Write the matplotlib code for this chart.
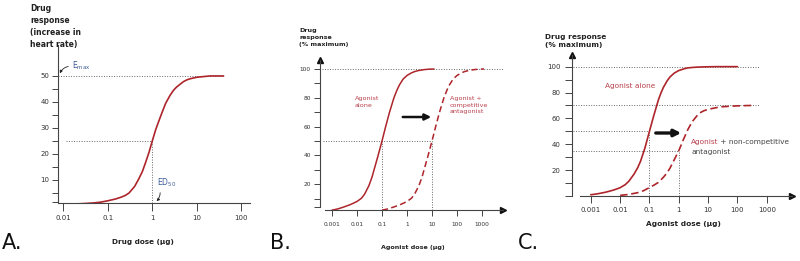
import matplotlib
matplotlib.use("Agg")
import matplotlib.pyplot as plt
from matplotlib.ticker import FixedLocator, NullLocator, FixedFormatter

W, H = 800, 261

# ---------------- data ----------------
A_dose = [0.02, 0.03, 0.05, 0.07, 0.1, 0.15, 0.2, 0.25, 0.3, 0.4, 0.5, 0.6, 0.7, 0.85, 1,
          1.2, 1.5, 1.75, 2, 2.5, 3, 3.5, 4, 5, 6, 7, 10, 15, 20, 40]
A_resp = [0.8, 0.95, 1.2, 1.5, 2.0, 2.7, 3.4, 4.1, 5.0, 7.5, 10.5, 13.3, 16.5, 20.8, 25,
          29.5, 34, 37, 39.5, 42.5, 44.5, 45.7, 46.5, 47.8, 48.5, 48.9, 49.5, 49.8, 50, 50]
A_emax = 50
A_ed50 = 1
A_xticks = [0.01, 0.1, 1, 10, 100]
A_xticklabels = ["0.01", "0.1", "1", "10", "100"]
A_yticks = [10, 20, 30, 40, 50]

B_dose_alone = [0.001, 0.0015, 0.002, 0.003, 0.005, 0.007, 0.01, 0.015, 0.02, 0.03, 0.04, 0.05,
                0.07, 0.1, 0.14, 0.2, 0.25, 0.3, 0.4, 0.5, 0.7, 1, 1.5, 2, 3, 5, 8, 12]
B_resp_alone = [2, 2.6, 3.2, 4.2, 5.6, 6.7, 8, 10.2, 13, 19, 25, 31,
                40, 50, 60, 70, 75.5, 80, 85.5, 89, 93, 95.5, 97.3, 98.2, 99, 99.6, 99.9, 100]
B_dose_comp = [0.1, 0.15, 0.2, 0.3, 0.5, 0.7, 1, 1.5, 2, 3, 4, 5,
               7, 10, 14, 20, 25, 30, 40, 50, 70, 100, 150, 200, 300, 500, 800, 1200]
B_resp_comp = [2, 2.6, 3.2, 4.2, 5.6, 6.7, 8, 10.2, 13, 19, 25, 31,
               40, 50, 60, 70, 75.5, 80, 85.5, 89, 93, 95.5, 97.3, 98.2, 99, 99.6, 99.9, 100]
B_ec50 = [0.1, 10]
B_xticks = [0.001, 0.01, 0.1, 1, 10, 100, 1000]
B_xticklabels = ["0.001", "0.01", "0.1", "1", "10", "100", "1000"]
B_yticks = [20, 40, 60, 80, 100]

C_dose_alone = [0.001, 0.0015, 0.002, 0.003, 0.004, 0.006, 0.01, 0.015, 0.02, 0.03, 0.04, 0.05,
                0.07, 0.1, 0.14, 0.2, 0.25, 0.3, 0.4, 0.5, 0.7, 1, 1.5, 2, 3, 5, 10, 20, 100]
C_resp_alone = [1, 1.5, 2, 2.8, 3.5, 4.6, 6.4, 8.8, 11.5, 17, 22, 27,
                37, 50, 62, 74, 80, 84, 89, 92, 95, 97, 98.3, 99, 99.4, 99.7, 99.9, 100, 100]
C_dose_nonc = [0.01, 0.015, 0.02, 0.03, 0.04, 0.06, 0.1, 0.15, 0.2, 0.3, 0.4, 0.5, 0.7, 1,
               1.4, 2, 2.5, 3, 4, 5, 7, 10, 20, 30, 100, 300]
C_resp_nonc = [0.5, 0.9, 1.3, 2, 2.6, 3.9, 6.5, 8.7, 10.5, 14.5, 18, 21.5, 28, 35,
               43, 51, 55, 58, 61.5, 64, 65.8, 67, 68.4, 69, 69.7, 70]
C_ec50 = [0.1, 1]
C_half = [50, 35]
C_max = [100, 70]
C_xticks = [0.001, 0.01, 0.1, 1, 10, 100, 1000]
C_xticklabels = ["0.001", "0.01", "0.1", "1", "10", "100", "1000"]
C_yticks = [20, 40, 60, 80, 100]

# ---------------- styles ----------------
RED = "#ad252b"
TXTRED = "#b8404c"
AX = "#444444"
TK = "#333333"
DOT = "#666666"
BLUE = "#3c5a96"
DOTSTYLE = (0, (1, 1.6))

fig = plt.figure(figsize=(W / 100, H / 100), dpi=100)
fig.patch.set_facecolor("white")


def add_axes_px(l, r, t, b):
    return fig.add_axes([l / W, 1 - b / H, (r - l) / W, (b - t) / H])


def fx(x):
    return x / W


def fy(y):
    return 1 - y / H


def style_axes(ax, fs, tlen, xpad, ypad):
    ax.set_facecolor("none")
    ax.set_xscale("log")
    for s in ["top", "right"]:
        ax.spines[s].set_visible(False)
    for s in ["left", "bottom"]:
        ax.spines[s].set_color(AX)
        ax.spines[s].set_linewidth(0.8)
    ax.xaxis.set_minor_locator(NullLocator())
    ax.tick_params(axis="both", which="both", colors=AX, labelcolor=TK,
                   labelsize=fs, length=tlen, width=0.7, direction="out")
    ax.tick_params(axis="x", pad=xpad)
    ax.tick_params(axis="y", pad=ypad)


def dotted(ax, xs, ys):
    ax.plot(xs, ys, color=DOT, lw=0.7, linestyle=DOTSTYLE, zorder=1)


def curve(ax, xs, ys, lw, ls="-"):
    ax.plot(xs, ys, color=RED, lw=lw, linestyle=ls, zorder=3,
            solid_joinstyle="round", solid_capstyle="round", dash_joinstyle="round")


# ================= Panel A =================
axA = add_axes_px(58, 250, 45, 203)
style_axes(axA, 5, 5.5, 3.5, 2)
axA.set_xlim(10 ** -2.119, 10 ** 2.196)
axA.set_ylim(1.15, 61.9)
axA.spines["left"].set_bounds(1.7, 61.9)
axA.xaxis.set_major_locator(FixedLocator(A_xticks))
axA.xaxis.set_major_formatter(FixedFormatter(A_xticklabels))
axA.yaxis.set_major_locator(FixedLocator(A_yticks))
axA.yaxis.set_minor_locator(FixedLocator([1.7, 5, 15, 25, 35, 45]))
axA.tick_params(axis="y", which="both", length=4)
dotted(axA, [10 ** -2.119, 40], [A_emax, A_emax])
dotted(axA, [10 ** -1.95, A_ed50], [A_emax / 2, A_emax / 2])
dotted(axA, [A_ed50, A_ed50], [1.15, A_emax / 2])
curve(axA, A_dose, A_resp, 1.2)

fig.text(fx(30), fy(4), "Drug\nresponse\n(increase in\nheart rate)", fontsize=5.5,
         fontweight="bold", color="#222", ha="left", va="top", linespacing=1.45)
fig.text(fx(143), fy(242), "Drug dose (µg)", fontsize=5.2, fontweight="bold",
         color="#222", ha="center", va="center")
fig.text(fx(72), fy(66), r"E$_{\mathregular{max}}$", fontsize=5.5, color=BLUE,
         ha="left", va="center")
axA.annotate("", xy=(59, H - 76), xycoords="figure pixels",
             xytext=(71, H - 66), textcoords="figure pixels",
             arrowprops=dict(arrowstyle="-|>", color="#222", lw=0.6,
                             mutation_scale=4, connectionstyle="arc3,rad=0.35"))
fig.text(fx(157), fy(183), r"ED$_{\mathregular{50}}$", fontsize=5.5, color=BLUE,
         ha="left", va="center")
axA.annotate("", xy=(154.5, H - 203), xycoords="figure pixels",
             xytext=(160, H - 190), textcoords="figure pixels",
             arrowprops=dict(arrowstyle="-|>", color="#222", lw=0.6,
                             mutation_scale=4, connectionstyle="arc3,rad=-0.3"))
fig.text(fx(2), fy(243), "A.", fontsize=15, color="#111", ha="left", va="center")

# ================= Panel B =================
axB = add_axes_px(320, 503, 60, 210)
style_axes(axB, 4.2, 4.5, 4.5, 2.5)
axB.set_xlim(10 ** -3.48, 10 ** 3.84)
axB.set_ylim(2.08, 106.25)
axB.spines["left"].set_bounds(4.4, 106.25)
axB.spines["bottom"].set_bounds(10 ** -3.28, 10 ** 3.84)
axB.xaxis.set_major_locator(FixedLocator(B_xticks))
axB.xaxis.set_major_formatter(FixedFormatter(B_xticklabels))
axB.yaxis.set_major_locator(FixedLocator(B_yticks))
axB.yaxis.set_minor_locator(FixedLocator([4.4, 10, 30, 50, 70, 90]))
axB.tick_params(axis="y", which="both", length=4.2)
axB.plot([1], [0], marker=">", color="#111", markersize=4, transform=axB.transAxes, clip_on=False)
axB.plot([0], [1], marker="^", color="#111", markersize=4, transform=axB.transAxes, clip_on=False)
dotted(axB, [10 ** -3.4, 10 ** 3.84], [100, 100])
dotted(axB, [10 ** -3.35, B_ec50[1]], [50, 50])
for e in B_ec50:
    dotted(axB, [e, e], [2.08, 50])
curve(axB, B_dose_alone, B_resp_alone, 1.1)
curve(axB, B_dose_comp, B_resp_comp, 1.1, (0, (4, 2.2)))

fig.text(fx(299), fy(28), "Drug\nresponse\n(% maximum)", fontsize=4.6,
         fontweight="bold", color="#222", ha="left", va="top", linespacing=1.5)
fig.text(fx(413), fy(247), "Agonist dose (µg)", fontsize=4.6, fontweight="bold",
         color="#222", ha="center", va="center")
fig.text(fx(355), fy(96), "Agonist\nalone", fontsize=4.6, color=TXTRED,
         ha="left", va="top", linespacing=1.4)
fig.text(fx(450), fy(96), "Agonist +\ncompetitive\nantagonist", fontsize=4.6,
         color=TXTRED, ha="left", va="top", linespacing=1.4)
axB.annotate("", xy=(434, H - 117), xycoords="figure pixels",
             xytext=(400, H - 117), textcoords="figure pixels",
             arrowprops=dict(arrowstyle="-|>", color="#111", lw=1.8,
                             mutation_scale=9))
fig.text(fx(270), fy(243), "B.", fontsize=15, color="#111", ha="left", va="center")

# ================= Panel C =================
axC = add_axes_px(572, 792, 55, 196)
style_axes(axC, 5, 5, 3, 3)
axC.set_xlim(10 ** -3.64, 10 ** 3.86)
axC.set_ylim(0.0, 109.0)
axC.spines["bottom"].set_bounds(10 ** -3.365, 10 ** 3.86)
axC.xaxis.set_major_locator(FixedLocator(C_xticks))
axC.xaxis.set_major_formatter(FixedFormatter(C_xticklabels))
axC.yaxis.set_major_locator(FixedLocator(C_yticks))
axC.yaxis.set_minor_locator(FixedLocator([0, 10, 30, 50, 70, 90]))
axC.tick_params(axis="y", which="both", length=5)
axC.plot([1], [0], marker=">", color="#111", markersize=4, transform=axC.transAxes, clip_on=False)
axC.plot([0], [1], marker="^", color="#111", markersize=4, transform=axC.transAxes, clip_on=False)
for m in C_max:
    dotted(axC, [10 ** -3.6, 590], [m, m])
for e, h in zip(C_ec50, C_half):
    dotted(axC, [10 ** -3.6, e], [h, h])
    dotted(axC, [e, e], [0, h])
curve(axC, C_dose_alone, C_resp_alone, 1.2)
curve(axC, C_dose_nonc, C_resp_nonc, 1.2, (0, (4.5, 2.2)))

fig.text(fx(545), fy(34), "Drug response\n(% maximum)", fontsize=5.3,
         fontweight="bold", color="#222", ha="left", va="top", linespacing=1.35)
fig.text(fx(683), fy(224), "Agonist dose (µg)", fontsize=5.3, fontweight="bold",
         color="#222", ha="center", va="center")
fig.text(fx(605), fy(86), "Agonist alone", fontsize=5.3, color=TXTRED,
         ha="left", va="center")
t1 = fig.text(fx(691), fy(142), "Agonist", fontsize=5.3, color=TXTRED,
              ha="left", va="center")
fig.canvas.draw()
bb = t1.get_window_extent(fig.canvas.get_renderer())
fig.text(bb.x1 / W, fy(142), " + non-competitive", fontsize=5.3, color="#444",
         ha="left", va="center")
fig.text(fx(691), fy(152), "antagonist", fontsize=5.3, color="#444",
         ha="left", va="center")
axC.annotate("", xy=(684, H - 133), xycoords="figure pixels",
             xytext=(653, H - 133), textcoords="figure pixels",
             arrowprops=dict(arrowstyle="-|>", color="#111", lw=2.4,
                             mutation_scale=10))
fig.text(fx(518), fy(243), "C.", fontsize=15, color="#111", ha="left", va="center")

fig.savefig("out.png", dpi=100)
